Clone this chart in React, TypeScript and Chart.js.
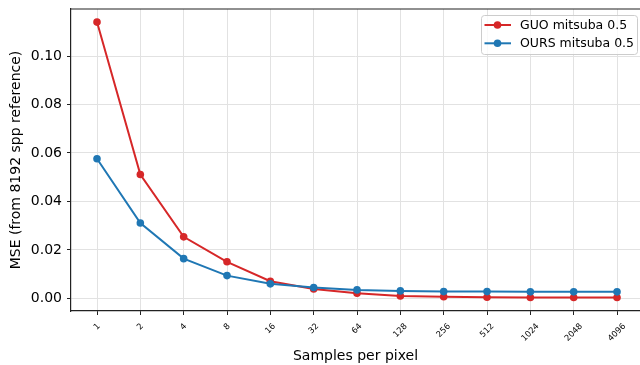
import React, { useEffect, useRef } from 'react';
import { Chart, registerables } from 'chart.js';

Chart.register(...registerables);

const sppLabels = ['1', '2', '4', '8', '16', '32', '64', '128', '256', '512', '1024', '2048', '4096'];
const guoMse = [0.114, 0.0511, 0.0254, 0.0151, 0.0071, 0.0039, 0.0021, 0.001, 0.0007, 0.0005, 0.0004, 0.0004, 0.0004];
const oursMse = [0.0576, 0.0311, 0.0164, 0.0094, 0.006, 0.0045, 0.0035, 0.0031, 0.0028, 0.0028, 0.0027, 0.0027, 0.0027];
const yTickValues = [0, 0.02, 0.04, 0.06, 0.08, 0.1];
const seriesNames = ['GUO mitsuba 0.5', 'OURS mitsuba 0.5'];
const seriesColors = ['#d62728', '#1f77b4'];
const xAxisTitle = 'Samples per pixel';
const yAxisTitle = 'MSE (from 8192 spp reference)';

const FAMILY = "'DejaVu Sans', sans-serif";
const GRID = '#e2e2e2';
const SPINE = '#222222';

const zeroPad = (s: any) => {
  s.paddingTop = 0;
  s.paddingBottom = 0;
  s.paddingLeft = 0;
  s.paddingRight = 0;
};

const decorPlugin = {
  id: 'decor',
  afterDraw(chart: any) {
    const { ctx, chartArea: ca } = chart;
    const xs = chart.scales.x;
    ctx.save();
    // top spine
    ctx.strokeStyle = SPINE;
    ctx.lineWidth = 1.2;
    ctx.beginPath();
    ctx.moveTo(ca.left, ca.top);
    ctx.lineTo(ca.right, ca.top);
    ctx.stroke();

    // rotated, centered x tick labels
    const f = 8.3;
    const h = 1.164 * f;
    ctx.font = `${f}px ${FAMILY}`;
    ctx.fillStyle = '#000';
    ctx.textAlign = 'center';
    ctx.textBaseline = 'middle';
    sppLabels.forEach((lab, i) => {
      const x = xs.getPixelForValue(i);
      const w = ctx.measureText(lab).width;
      const cy = ca.bottom + 10.5 + (w + h) / (2 * Math.SQRT2);
      ctx.save();
      ctx.translate(x, cy);
      ctx.rotate(-Math.PI / 4);
      ctx.fillText(lab, 0, 0);
      ctx.restore();
    });

    // legend
    const bw = 156;
    const bh = 39;
    const bx = ca.right - 159;
    const by = ca.top + 6;
    ctx.beginPath();
    ctx.roundRect(bx + 0.5, by + 0.5, bw, bh, 3);
    ctx.fillStyle = 'rgba(255,255,255,0.8)';
    ctx.fill();
    ctx.strokeStyle = '#cccccc';
    ctx.lineWidth = 1;
    ctx.stroke();
    ctx.font = `12.5px ${FAMILY}`;
    ctx.textAlign = 'left';
    ctx.textBaseline = 'middle';
    seriesNames.forEach((name, i) => {
      const ry = by + 10 + i * 18.3;
      ctx.strokeStyle = seriesColors[i];
      ctx.lineWidth = 2;
      ctx.beginPath();
      ctx.moveTo(bx + 3.5, ry);
      ctx.lineTo(bx + 30, ry);
      ctx.stroke();
      ctx.fillStyle = seriesColors[i];
      ctx.beginPath();
      ctx.arc(bx + 16.5, ry, 3.8, 0, Math.PI * 2);
      ctx.fill();
      ctx.fillStyle = '#000';
      ctx.fillText(name, bx + 39, ry + 0.5);
    });
    ctx.restore();
  },
};

export default function App() {
  const ref = useRef<HTMLCanvasElement>(null);

  useEffect(() => {
    if (!ref.current) return;
    Chart.defaults.font.family = FAMILY;
    const series = [guoMse, oursMse];
    const chart = new Chart(ref.current, {
      type: 'line',
      data: {
        datasets: series.map((vals, si) => ({
          label: seriesNames[si],
          data: vals.map((v, i) => ({ x: i, y: v })),
          borderColor: seriesColors[si],
          backgroundColor: seriesColors[si],
          pointBackgroundColor: seriesColors[si],
          pointBorderWidth: 0,
          pointRadius: 3.8,
          borderWidth: 2,
          tension: 0,
          order: 2 - si,
        })),
      },
      options: {
        responsive: false,
        animation: false,
        devicePixelRatio: 1,
        layout: { autoPadding: false, padding: { top: 9, right: 0, left: 0, bottom: 0 } },
        plugins: { legend: { display: false }, tooltip: { enabled: false } },
        scales: {
          x: {
            type: 'linear',
            min: -0.6,
            max: 12.53,
            afterBuildTicks: (s: any) => {
              s.ticks = sppLabels.map((_, i) => ({ value: i }));
            },
            afterFit: (s: any) => {
              s.height = 54;
              zeroPad(s);
            },
            ticks: { display: false },
            grid: { color: GRID, lineWidth: 1, tickLength: 4, tickColor: SPINE, tickWidth: 1 },
            border: { color: SPINE, width: 1.2 },
            title: {
              display: true,
              text: xAxisTitle,
              color: '#000',
              font: { size: 14, family: FAMILY },
              padding: { top: 0, bottom: 0 },
            },
          },
          y: {
            type: 'linear',
            min: -0.0052,
            max: 0.1194,
            afterBuildTicks: (s: any) => {
              s.ticks = yTickValues.map((v) => ({ value: v }));
            },
            afterFit: (s: any) => {
              s.width = 71;
              zeroPad(s);
            },
            ticks: {
              color: '#000',
              font: { size: 14, family: FAMILY },
              padding: 5,
              callback: (v: any) => Number(v).toFixed(2),
            },
            grid: { color: GRID, lineWidth: 1, tickLength: 4, tickColor: SPINE, tickWidth: 1 },
            border: { color: SPINE, width: 1.2 },
            title: {
              display: true,
              text: yAxisTitle,
              color: '#000',
              font: { size: 14, family: FAMILY },
              padding: { top: 8, bottom: 0 },
            },
          },
        },
      },
      plugins: [decorPlugin],
    } as any);
    return () => chart.destroy();
  }, []);

  return (
    <div style={{ position: 'fixed', left: 0, top: 0, width: 640, height: 365, background: '#fff' }}>
      <canvas ref={ref} width={640} height={365} style={{ display: 'block' }} />
    </div>
  );
}
